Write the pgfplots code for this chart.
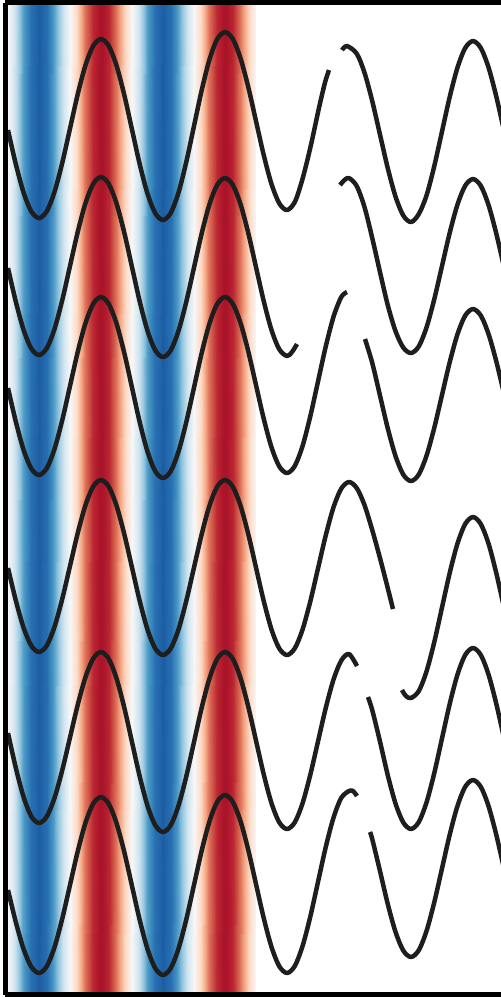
\documentclass[border=0pt]{standalone}
\usepackage{pgfplots}
\pgfplotsset{compat=1.18}
\definecolor{curve}{RGB}{30,30,30}
\begin{document}
\begin{tikzpicture}
\useasboundingbox (-5.5pt,-2.5pt) rectangle (495.5pt,994.5pt);
\clip (-5.5pt,-2.5pt) rectangle (495.5pt,994.5pt);
\begin{axis}[
  view={0}{90},
  scale only axis, width=504.5pt, height=992pt,
  xmin=5.5, xmax=510, ymin=2.5, ymax=994.5, zmin=-1.2, zmax=1.2,
  y dir=reverse,
  xtick=\empty, ytick=\empty, ztick=\empty,
  axis line style={line width=5pt, black},
  axis on top,
  colormap={rdbu}{rgb255(0cm)=(5,48,97) rgb255(1cm)=(33,102,172) rgb255(2cm)=(67,147,195) rgb255(3cm)=(146,197,222) rgb255(4cm)=(209,229,240) rgb255(5cm)=(247,247,247) rgb255(6cm)=(253,219,199) rgb255(7cm)=(244,165,130) rgb255(8cm)=(214,96,77) rgb255(9cm)=(178,24,43) rgb255(10cm)=(103,0,31)},
  point meta min=-1.2, point meta max=1.2,
  curv/.style={line width=4.5pt, color=curve, smooth, no markers, line join=round}
]
\addplot3[surf, shader=interp, point meta=z] table {
x y z
8 2.5 0
15.75 2.5 -0.3
23.5 2.5 -0.66
31.25 2.5 -0.91
39 2.5 -1
46.75 2.5 -0.91
54.5 2.5 -0.66
62.25 2.5 -0.3
70 2.5 0
77.75 2.5 0.3
85.5 2.5 0.66
93.25 2.5 0.91
101 2.5 1
108.75 2.5 0.91
116.5 2.5 0.66
124.25 2.5 0.3
132 2.5 0
139.75 2.5 -0.3
147.5 2.5 -0.66
155.25 2.5 -0.91
163 2.5 -1
170.75 2.5 -0.91
178.5 2.5 -0.66
186.25 2.5 -0.3
194 2.5 0
201.75 2.5 0.3
209.5 2.5 0.66
217.25 2.5 0.91
225 2.5 1
232.75 2.5 0.91
240.5 2.5 0.66
248.25 2.5 0.3
256 2.5 0

8 994.5 0
15.75 994.5 -0.3
23.5 994.5 -0.66
31.25 994.5 -0.91
39 994.5 -1
46.75 994.5 -0.91
54.5 994.5 -0.66
62.25 994.5 -0.3
70 994.5 0
77.75 994.5 0.3
85.5 994.5 0.66
93.25 994.5 0.91
101 994.5 1
108.75 994.5 0.91
116.5 994.5 0.66
124.25 994.5 0.3
132 994.5 0
139.75 994.5 -0.3
147.5 994.5 -0.66
155.25 994.5 -0.91
163 994.5 -1
170.75 994.5 -0.91
178.5 994.5 -0.66
186.25 994.5 -0.3
194 994.5 0
201.75 994.5 0.3
209.5 994.5 0.66
217.25 994.5 0.91
225 994.5 1
232.75 994.5 0.91
240.5 994.5 0.66
248.25 994.5 0.3
256 994.5 0
};
% curve 1
\addplot[curv] coordinates {(8,130) (15.75,163.7) (23.5,192.2) (31.25,211.3) (39,218) (46.75,211.2) (54.5,191.8) (62.25,162.8) (70,128.5) (77.75,94.2) (85.5,65.2) (93.25,45.8) (101,39) (108.75,45.9) (116.5,65.5) (124.25,94.8) (132,129.5) (139.75,164.2) (147.5,193.5) (155.25,213.1) (163,220) (170.75,212.9) (178.5,192.5) (186.25,162) (194,126) (201.75,90) (209.5,59.5) (217.25,39.1) (225,32) (232.75,38.8) (240.5,58.1) (248.25,86.9) (256,121) (263.75,155.1) (271.5,183.9) (279.25,203.2) (287,210) (295,201.6) (303,177.2) (311,144.7) (319,107.8) (325,82.5) (329,70)};
\addplot[curv] coordinates {(342,50) (347,46) (356.75,53.6) (364.5,72.6) (372.25,101) (380,134.5) (387.75,168) (395.5,196.4) (403.25,215.4) (411,222) (418.75,214.1) (426.5,195.5) (434.25,166.2) (442,131.5) (449.75,96.8) (457.5,67.5) (465.25,47.9) (473,41) (480.75,47.8) (488.5,67.2) (496.25,96.2) (504,130.5)};
% curve 2
\addplot[curv] coordinates {(8,268) (15.75,301.3) (23.5,329.5) (31.25,348.4) (39,355) (46.75,348.2) (54.5,328.9) (62.25,300.1) (70,266) (77.75,231.9) (85.5,203.1) (93.25,183.8) (101,177) (108.75,183.8) (116.5,203.4) (124.25,232.5) (132,267) (139.75,301.5) (147.5,330.6) (155.25,350.2) (163,357) (170.75,350.2) (178.5,330.8) (186.25,301.8) (194,267.5) (201.75,233.2) (209.5,204.2) (217.25,184.8) (225,178) (232.75,184.8) (240.5,204.1) (248.25,232.9) (256,267) (263.75,301.1) (271.5,329.9) (279.25,349.2) (287,356) (292,352) (297,344)};
\addplot[curv] coordinates {(340,185) (344.5,180) (349,178) (356.75,186) (364.5,207) (372.25,238) (380,272) (387.75,305) (395.5,331) (403.25,347.5) (411,353) (418.75,346.4) (426.5,327.5) (434.25,299.3) (442,266) (449.75,232.7) (457.5,204.5) (465.25,185.6) (473,179) (480.75,185.7) (488.5,204.8) (496.25,233.3) (504,267)};
% curve 3
\addplot[curv] coordinates {(8,388) (15.75,421.3) (23.5,449.5) (31.25,468.4) (39,475) (46.75,468.2) (54.5,448.9) (62.25,420.1) (70,386) (77.75,351.9) (85.5,323.1) (93.25,303.8) (101,297) (108.75,303.9) (116.5,323.5) (124.25,352.8) (132,387.5) (139.75,422.2) (147.5,451.5) (155.25,471.1) (163,478) (170.75,471.1) (178.5,451.5) (186.25,422.2) (194,387.5) (201.75,352.8) (209.5,323.5) (217.25,303.9) (225,297) (232.75,303.7) (240.5,322.8) (248.25,351.3) (256,385) (263.75,418.7) (271.5,447.2) (279.25,466.3) (287,473) (294.75,466) (302.5,446.2) (310.25,416.5) (318,381.5) (325.75,346.5) (333.5,316.8) (341.25,297) (347,292)};
\addplot[curv] coordinates {(365,339) (372.25,362.8) (380,395.5) (387.75,428.2) (395.5,455.9) (403.25,474.5) (411,481) (418.75,474.5) (426.5,455.8) (434.25,427.9) (442,395) (449.75,362.1) (457.5,334.2) (465.25,315.5) (473,309) (480.75,315.4) (488.5,333.8) (496.25,361.1) (504,393.5)};
% curve 4
\addplot[curv] coordinates {(8,568) (15.75,600.2) (23.5,627.4) (31.25,645.6) (39,652) (46.75,645.5) (54.5,626.8) (62.25,598.9) (70,566) (77.75,533.1) (85.5,505.2) (93.25,486.5) (101,480) (108.75,486.6) (116.5,505.6) (124.25,534) (132,567.5) (139.75,601) (147.5,629.4) (155.25,648.4) (163,655) (170.75,648.4) (178.5,629.4) (186.25,601) (194,567.5) (201.75,534) (209.5,505.6) (217.25,486.6) (225,480) (232.75,486.6) (240.5,505.6) (248.25,534) (256,567.5) (263.75,601) (271.5,629.4) (279.25,648.4) (287,655) (294.75,648.4) (302.5,629.7) (310.25,601.6) (318,568.5) (325.75,535.4) (333.5,507.3) (341.25,488.6) (349,482) (356.75,488) (364.5,505) (372.25,530) (380,558) (387.75,588) (393,609)};
\addplot[curv] coordinates {(402,690) (406,696) (411,698) (418.75,691.1) (426.5,671.5) (434.25,642.2) (442,607.5) (449.75,572.8) (457.5,543.5) (465.25,523.9) (473,517) (480.75,523.9) (488.5,543.5) (496.25,572.8) (504,607.5)};
% curve 5
\addplot[curv] coordinates {(8,733) (15.75,767.5) (23.5,796.6) (31.25,816.2) (39,823) (46.75,816.5) (54.5,797.9) (62.25,770.2) (70,737.5) (77.75,704.8) (85.5,677.1) (93.25,658.5) (101,652) (108.75,658.8) (116.5,678.4) (124.25,707.5) (132,742) (139.75,776.5) (147.5,805.6) (155.25,825.2) (163,832) (170.75,825.2) (178.5,805.6) (186.25,776.5) (194,742) (201.75,707.5) (209.5,678.4) (217.25,658.8) (225,652) (232.75,658.7) (240.5,677.9) (248.25,706.6) (256,740.5) (263.75,774.4) (271.5,803.1) (279.25,822.3) (287,829) (294.75,822.4) (302.5,803.4) (310.25,775) (318,741.5) (325.75,708) (333.5,679.6) (341.25,660.6) (349,654) (357,666)};
\addplot[curv] coordinates {(368,697) (372.25,710) (380,741.5) (387.75,775) (395.5,803.4) (403.25,822.4) (411,829) (418.75,822.1) (426.5,802.5) (434.25,773.2) (442,738.5) (449.75,703.8) (457.5,674.5) (465.25,654.9) (473,648) (480.75,654.8) (488.5,674.4) (496.25,703.5) (504,738)};
% curve 6
\addplot[curv] coordinates {(8,890) (15.75,921.8) (23.5,948.7) (31.25,966.7) (39,973) (46.75,966.3) (54.5,947.2) (62.25,918.7) (70,885) (77.75,851.3) (85.5,822.8) (93.25,803.7) (101,797) (108.75,803.8) (116.5,823.1) (124.25,851.9) (132,886) (139.75,920.1) (147.5,948.9) (155.25,968.2) (163,975) (170.75,968.2) (178.5,948.6) (186.25,919.5) (194,885) (201.75,850.5) (209.5,821.4) (217.25,801.8) (225,795) (232.75,801.8) (240.5,821.1) (248.25,849.9) (256,884) (263.75,918.1) (271.5,946.9) (279.25,966.2) (287,973) (294.75,966.1) (302.5,946.3) (310.25,916.9) (318,882) (325.75,847.1) (333.5,817.7) (341.25,797.9) (349,791) (353,791) (357,796)};
\addplot[curv] coordinates {(370,832) (372.25,839) (380,871) (387.75,903.9) (395.5,931.8) (403.25,950.5) (411,957) (418.75,950.3) (426.5,931.1) (434.25,902.4) (442,868.5) (449.75,834.6) (457.5,805.9) (465.25,786.7) (473,780) (480.75,786.7) (488.5,805.9) (496.25,834.6) (504,868.5)};
\end{axis}
\end{tikzpicture}
\end{document}
